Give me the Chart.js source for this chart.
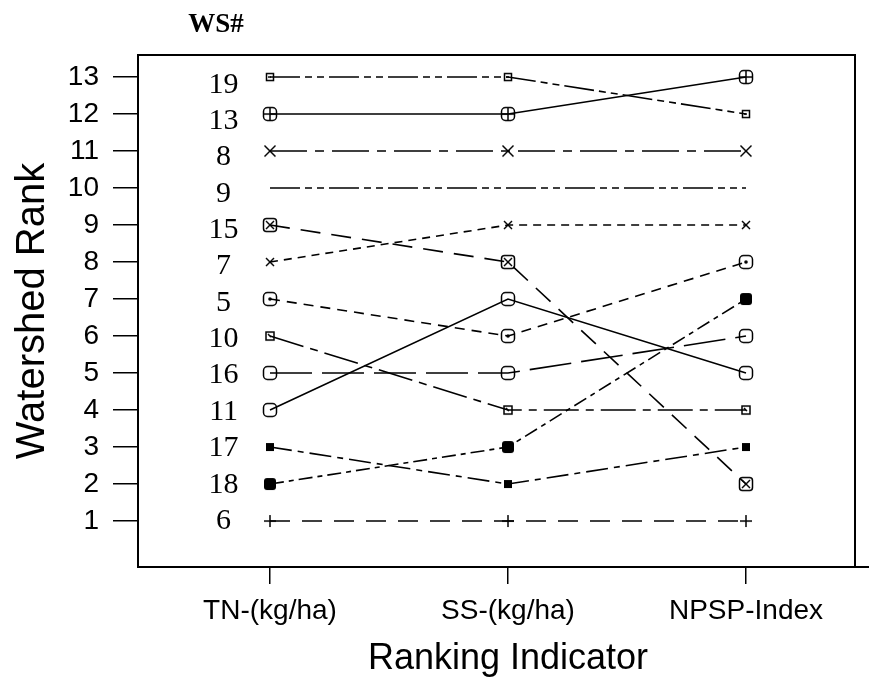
<!DOCTYPE html>
<html><head><meta charset="utf-8">
<script src="https://cdn.jsdelivr.net/npm/chart.js@4.4.0/dist/chart.umd.min.js"></script>
<style>html,body{margin:0;padding:0;background:#fff;} #wrap{width:869px;height:686px;position:relative;}</style>
</head><body><div id="wrap"><canvas id="c" width="869" height="686"></canvas></div>
<script>
// ---- data ----
const indicators = ['TN-(kg/ha)', 'SS-(kg/ha)', 'NPSP-Index'];
const wsIds    = ['19','13','8','9','15','7','5','10','16','11','17','18','6'];
const tnRank   = [13, 12, 11, 10, 9, 8, 7, 6, 5, 4, 3, 2, 1];
const ssRank   = [13, 12, 11, 10, 8, 9, 6, 4, 5, 7, 2, 3, 1];
const npspRank = [12, 13, 11, 10, 2, 9, 8, 4, 6, 5, 3, 7, 1];
const yTicks   = [1,2,3,4,5,6,7,8,9,10,11,12,13];

// ---- styles per watershed ----
const markerKinds = ['sqLine','circPlus','xBig','none','boxX','xSmall','roundDot','sqDiag','round','round','sqFill','roundFill','plus'];
const dashes = [[30,5,7,5,7,5],[],[37,8,9,8],[30,5,7,5,7,5],[20,11],[8,6],[10,7],[35,7,8,7],[42,10],[],[22,6,6,6],[14,5,5,5],[20,12]];

function makeMarker(kind){
  const N = 18, c = document.createElement('canvas');
  c.width = N; c.height = N;
  const g = c.getContext('2d'), m = N/2;
  g.strokeStyle = '#000'; g.fillStyle = '#000'; g.lineWidth = 1.5;
  const line=(a,b,cc,d)=>{g.beginPath();g.moveTo(a,b);g.lineTo(cc,d);g.stroke();};
  const rr=(h,r)=>{g.beginPath();g.roundRect(m-h,m-h,2*h,2*h,r);};
  switch(kind){
    case 'sqLine': g.strokeRect(m-3.5,m-3.5,7,7); line(m-2,m,m+1,m); break;
    case 'circPlus': rr(6.5,4); g.stroke(); line(m-6.5,m,m+6.5,m); line(m,m-6.5,m,m+6.5); break;
    case 'xBig': line(m-5.5,m-5.5,m+5.5,m+5.5); line(m-5.5,m+5.5,m+5.5,m-5.5); break;
    case 'boxX': rr(6.5,3); g.stroke(); line(m-4,m-4,m+4,m+4); line(m-4,m+4,m+4,m-4); break;
    case 'xSmall': line(m-4,m-4,m+4,m+4); line(m-4,m+4,m+4,m-4); break;
    case 'roundDot': rr(6.5,4); g.stroke(); g.beginPath(); g.arc(m,m,1.8,0,Math.PI*2); g.fill(); break;
    case 'sqDiag': g.strokeRect(m-4,m-4,8,8); line(m-2,m-2,m+1,m+1); break;
    case 'round': rr(6.5,4); g.stroke(); break;
    case 'sqFill': g.fillRect(m-4,m-4,8,8); break;
    case 'roundFill': rr(6,3); g.fill(); break;
    case 'plus': line(m-6,m,m+6,m); line(m,m-6,m,m+6); break;
  }
  return c;
}

const datasets = wsIds.map((id,i)=>({
  label: 'WS ' + id,
  data: [tnRank[i], ssRank[i], npspRank[i]].map((v,k)=>({x:k, y:v})),
  borderColor: '#000',
  backgroundColor: '#000',
  borderWidth: 1.6,
  borderDash: dashes[i],
  pointStyle: markerKinds[i] === 'none' ? 'circle' : makeMarker(markerKinds[i]),
  pointRadius: markerKinds[i] === 'none' ? 0 : 5,
  tension: 0,
  fill: false
}));

const sans = "'Liberation Sans', Arial, sans-serif";
const serif = "'Liberation Serif', 'Times New Roman', serif";

const decor = {
  id: 'decor',
  afterDraw(chart){
    const ctx = chart.ctx, a = chart.chartArea;
    const xs = chart.scales.x, ys = chart.scales.y;
    ctx.save();
    ctx.strokeStyle = '#000'; ctx.lineWidth = 2;
    ctx.beginPath();
    ctx.moveTo(a.left, a.bottom); ctx.lineTo(a.left, a.top); ctx.lineTo(a.right, a.top); ctx.lineTo(a.right, a.bottom);
    ctx.moveTo(a.right, a.bottom); ctx.lineTo(chart.width, a.bottom);
    ctx.stroke();
    ctx.fillStyle = '#000';
    // x axis title centred on the middle indicator
    ctx.font = '36px ' + sans;
    ctx.textAlign = 'center'; ctx.textBaseline = 'middle';
    ctx.fillText('Ranking Indicator', xs.getPixelForValue(1), 659);
    // WS labels
    ctx.font = '30px ' + serif;
    const lx = xs.getPixelForValue(-0.195);
    wsIds.forEach((id,i)=>{
      const y = ys.getPixelForValue(tnRank[i]) + (tnRank[i]-1)*0.65;
      ctx.fillText(id, lx, y);
    });
    ctx.font = 'bold 27px ' + serif;
    ctx.textBaseline = 'alphabetic';
    ctx.fillText('WS#', xs.getPixelForValue(-0.227), 32);
    ctx.restore();
  }
};

new Chart(document.getElementById('c'), {
  type: 'line',
  data: { datasets },
  options: {
    responsive: false,
    animation: false,
    events: [],
    layout: { padding: { top: 55, right: 14, left: 0, bottom: 0 } },
    plugins: { legend: { display: false }, tooltip: { enabled: false } },
    scales: {
      x: {
        type: 'linear', min: -0.5546, max: 2.458,
        afterBuildTicks: s => { s.ticks = [0,1,2].map(v=>({value:v})); },
        afterFit: s => { s.height = 119; },
        ticks: { autoSkip: false, padding: 10, color: '#000', font: { family: sans, size: 28 },
                 callback: v => indicators[v] },
        grid: { display: true, drawOnChartArea: false, drawTicks: true, tickLength: 17, color: '#000', lineWidth: 1.5 },
        border: { display: true, color: '#000', width: 2 },
        title: { display: false }
      },
      y: {
        type: 'linear', min: -0.243, max: 13.595,
        afterBuildTicks: s => { s.ticks = yTicks.map(v=>({value:v})); },
        afterFit: s => { s.width = 138; },
        ticks: { autoSkip: false, padding: 14, color: '#000', font: { family: sans, size: 28 } },
        grid: { display: true, drawOnChartArea: false, drawTicks: true, tickLength: 25, color: '#000', lineWidth: 1.5 },
        border: { display: true, color: '#000', width: 2 },
        title: { display: true, text: 'Watershed Rank', color: '#000', font: { family: sans, size: 40 }, padding: { top: 9, bottom: 0 } }
      }
    }
  },
  plugins: [decor]
});
</script></body></html>
